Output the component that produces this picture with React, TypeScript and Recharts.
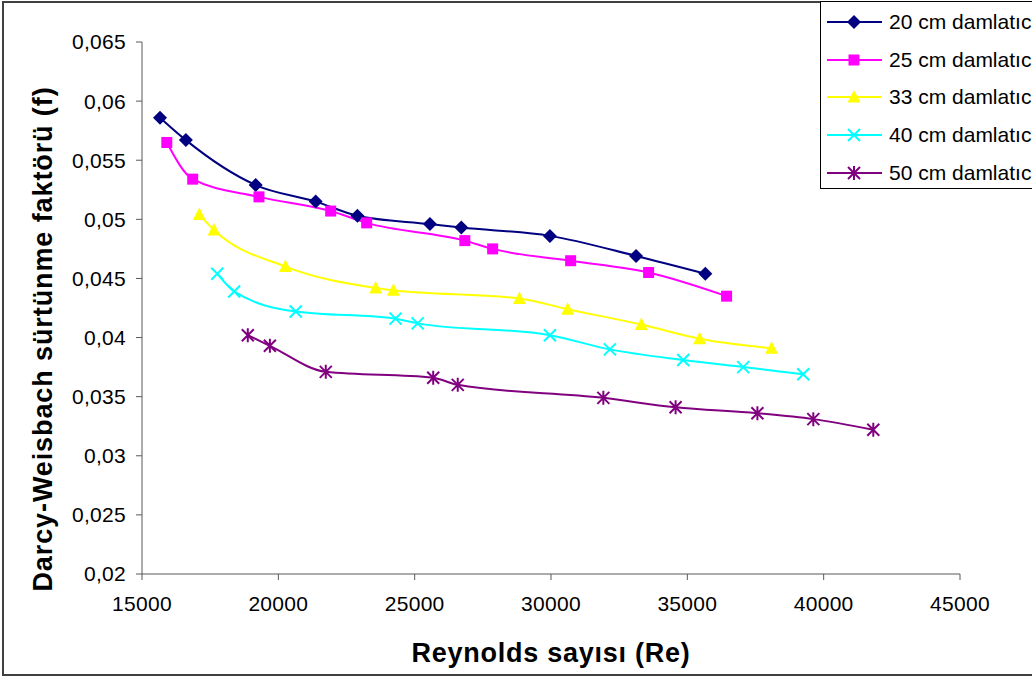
import { LineChart, Line, XAxis, YAxis, Legend, Label } from 'recharts'

// Reynolds numbers (x) and Darcy-Weisbach friction factor (y) per emitter spacing
const RE_20 = [15660, 16610, 19170, 21370, 22900, 25560, 26710, 29960, 33120, 35660]
const F_20 = [0.0586, 0.0567, 0.0529, 0.0515, 0.0503, 0.0496, 0.0493, 0.0486, 0.0469, 0.0454]

const RE_25 = [15910, 16860, 19290, 21920, 23240, 26840, 27860, 30720, 33580, 36440]
const F_25 = [0.0565, 0.0534, 0.0519, 0.0507, 0.0497, 0.0482, 0.0475, 0.0465, 0.0455, 0.0435]

const RE_33 = [17100, 17640, 20260, 23570, 24220, 28840, 30610, 33310, 35450, 38090]
const F_33 = [0.0504, 0.0491, 0.046, 0.0442, 0.044, 0.0433, 0.0424, 0.0411, 0.0399, 0.0391]

const RE_40 = [17760, 18380, 20640, 24300, 25110, 29960, 32160, 34850, 37050, 39250]
const F_40 = [0.0454, 0.0439, 0.0422, 0.0416, 0.0412, 0.0402, 0.039, 0.0381, 0.0375, 0.0369]

const RE_50 = [18880, 19690, 21740, 25680, 26580, 31920, 34570, 37570, 39620, 41820]
const F_50 = [0.0402, 0.0393, 0.0371, 0.0366, 0.036, 0.0349, 0.0341, 0.0336, 0.0331, 0.0322]

const X_TICKS = [15000, 20000, 25000, 30000, 35000, 40000, 45000]
const Y_TICKS = [0.02, 0.025, 0.03, 0.035, 0.04, 0.045, 0.05, 0.055, 0.06, 0.065]

const FONT = '"Liberation Sans", Arial, sans-serif'

type Shape = 'diamond' | 'square' | 'triangle' | 'x' | 'star'

const SERIES: { name: string; re: number[]; f: number[]; color: string; shape: Shape }[] = [
  { name: '20 cm damlatıcı', re: RE_20, f: F_20, color: '#000080', shape: 'diamond' },
  { name: '25 cm damlatıcı', re: RE_25, f: F_25, color: '#FF00FF', shape: 'square' },
  { name: '33 cm damlatıcı', re: RE_33, f: F_33, color: '#FFFF00', shape: 'triangle' },
  { name: '40 cm damlatıcı', re: RE_40, f: F_40, color: '#00FFFF', shape: 'x' },
  { name: '50 cm damlatıcı', re: RE_50, f: F_50, color: '#800080', shape: 'star' },
]

function Marker({ shape, cx, cy, color }: { shape: Shape; cx: number; cy: number; color: string }) {
  if (cx == null || cy == null) return null
  switch (shape) {
    case 'diamond':
      return <path d={`M${cx},${cy - 7}L${cx + 7},${cy}L${cx},${cy + 7}L${cx - 7},${cy}Z`} fill={color} />
    case 'square':
      return <rect x={cx - 5.5} y={cy - 5.5} width={11} height={11} fill={color} />
    case 'triangle':
      return <path d={`M${cx},${cy - 7}L${cx + 6.5},${cy + 5.5}L${cx - 6.5},${cy + 5.5}Z`} fill={color} />
    case 'x':
      return (
        <path
          d={`M${cx - 6},${cy - 6}L${cx + 6},${cy + 6}M${cx - 6},${cy + 6}L${cx + 6},${cy - 6}`}
          stroke={color}
          strokeWidth={2}
          fill="none"
        />
      )
    default:
      return (
        <path
          d={`M${cx - 6},${cy - 6}L${cx + 6},${cy + 6}M${cx - 6},${cy + 6}L${cx + 6},${cy - 6}M${cx},${cy - 7}L${cx},${cy + 7}`}
          stroke={color}
          strokeWidth={2}
          fill="none"
        />
      )
  }
}

const fmtY = (v: number) => String(v).replace('.', ',')

function LegendBox() {
  return (
    <div
      style={{
        border: '1px solid #000',
        background: '#fff',
        width: 240,
        height: 188,
        boxSizing: 'border-box',
        paddingTop: 1,
        fontFamily: FONT,
        fontSize: 21,
        color: '#000',
      }}
    >
      {SERIES.map((s) => (
        <div key={s.name} style={{ display: 'flex', alignItems: 'center', height: 37.8 }}>
          <svg width={56} height={20} style={{ marginLeft: 6, marginRight: 6, flex: 'none' }}>
            <line x1={0} y1={10} x2={55} y2={10} stroke={s.color} strokeWidth={2} />
            <Marker shape={s.shape} cx={27} cy={10} color={s.color} />
          </svg>
          <span style={{ whiteSpace: 'nowrap' }}>{s.name}</span>
        </div>
      ))}
    </div>
  )
}

const tickStyle = { fill: '#000', fontSize: 21, fontFamily: FONT, letterSpacing: 0.3 }
const titleStyle = { fontSize: 27, fontWeight: 'bold', fill: '#000', fontFamily: FONT }

export default function App() {
  return (
    <div
      style={{
        position: 'absolute',
        top: 0,
        left: 0,
        width: 1032,
        height: 688,
        overflow: 'hidden',
        background: '#fff',
        fontFamily: FONT,
      }}
    >
      {/* chart area frame */}
      <div
        style={{
          position: 'absolute',
          left: 2,
          top: 1,
          width: 1060,
          height: 671,
          borderTop: '2px solid #404040',
          borderLeft: '2px solid #404040',
          borderBottom: '2px solid #404040',
        }}
      />
      <LineChart width={1032} height={688} margin={{ top: 42, right: 72, bottom: 26, left: 72 }}>
        <XAxis
          type="number"
          dataKey="re"
          domain={[15000, 45000]}
          ticks={X_TICKS}
          height={88}
          tickSize={6}
          tickMargin={16}
          axisLine={{ stroke: '#595959' }}
          tickLine={{ stroke: '#595959' }}
          tick={tickStyle}
        >
          <Label
            value="Reynolds sayısı (Re)"
            position="insideBottom"
            offset={0}
            style={{ ...titleStyle, letterSpacing: 0.75 }}
          />
        </XAxis>
        <YAxis
          type="number"
          domain={[0.02, 0.065]}
          ticks={Y_TICKS}
          width={70}
          tickSize={6}
          tickMargin={10}
          tickFormatter={fmtY}
          axisLine={{ stroke: '#595959' }}
          tickLine={{ stroke: '#595959' }}
          tick={tickStyle}
        >
          <Label
            content={(props: any) => {
              const vb = props.viewBox
              const cx = vb.x - 29
              const cy = vb.y + vb.height / 2 + 31
              return (
                <text
                  x={cx}
                  y={cy}
                  transform={`rotate(-90 ${cx} ${cy})`}
                  textAnchor="middle"
                  dominantBaseline="central"
                  style={{ ...titleStyle, letterSpacing: 0.9 }}
                >
                  Darcy-Weisbach sürtünme faktörü (f)
                </text>
              )
            }}
          />
        </YAxis>
        <Legend
          layout="vertical"
          align="center"
          verticalAlign="middle"
          content={() => <LegendBox />}
          wrapperStyle={{ left: 820, top: 1, width: 240 }}
        />
        {SERIES.map((s) => (
          <Line
            key={s.name}
            name={s.name}
            data={s.re.map((re, i) => ({ re, f: s.f[i] }))}
            dataKey="f"
            type="monotone"
            stroke={s.color}
            strokeWidth={2}
            isAnimationActive={false}
            activeDot={false}
            dot={(p: any) => (
              <Marker key={`${s.name}-${p.index}`} shape={s.shape} cx={p.cx} cy={p.cy} color={s.color} />
            )}
          />
        ))}
      </LineChart>
    </div>
  )
}
